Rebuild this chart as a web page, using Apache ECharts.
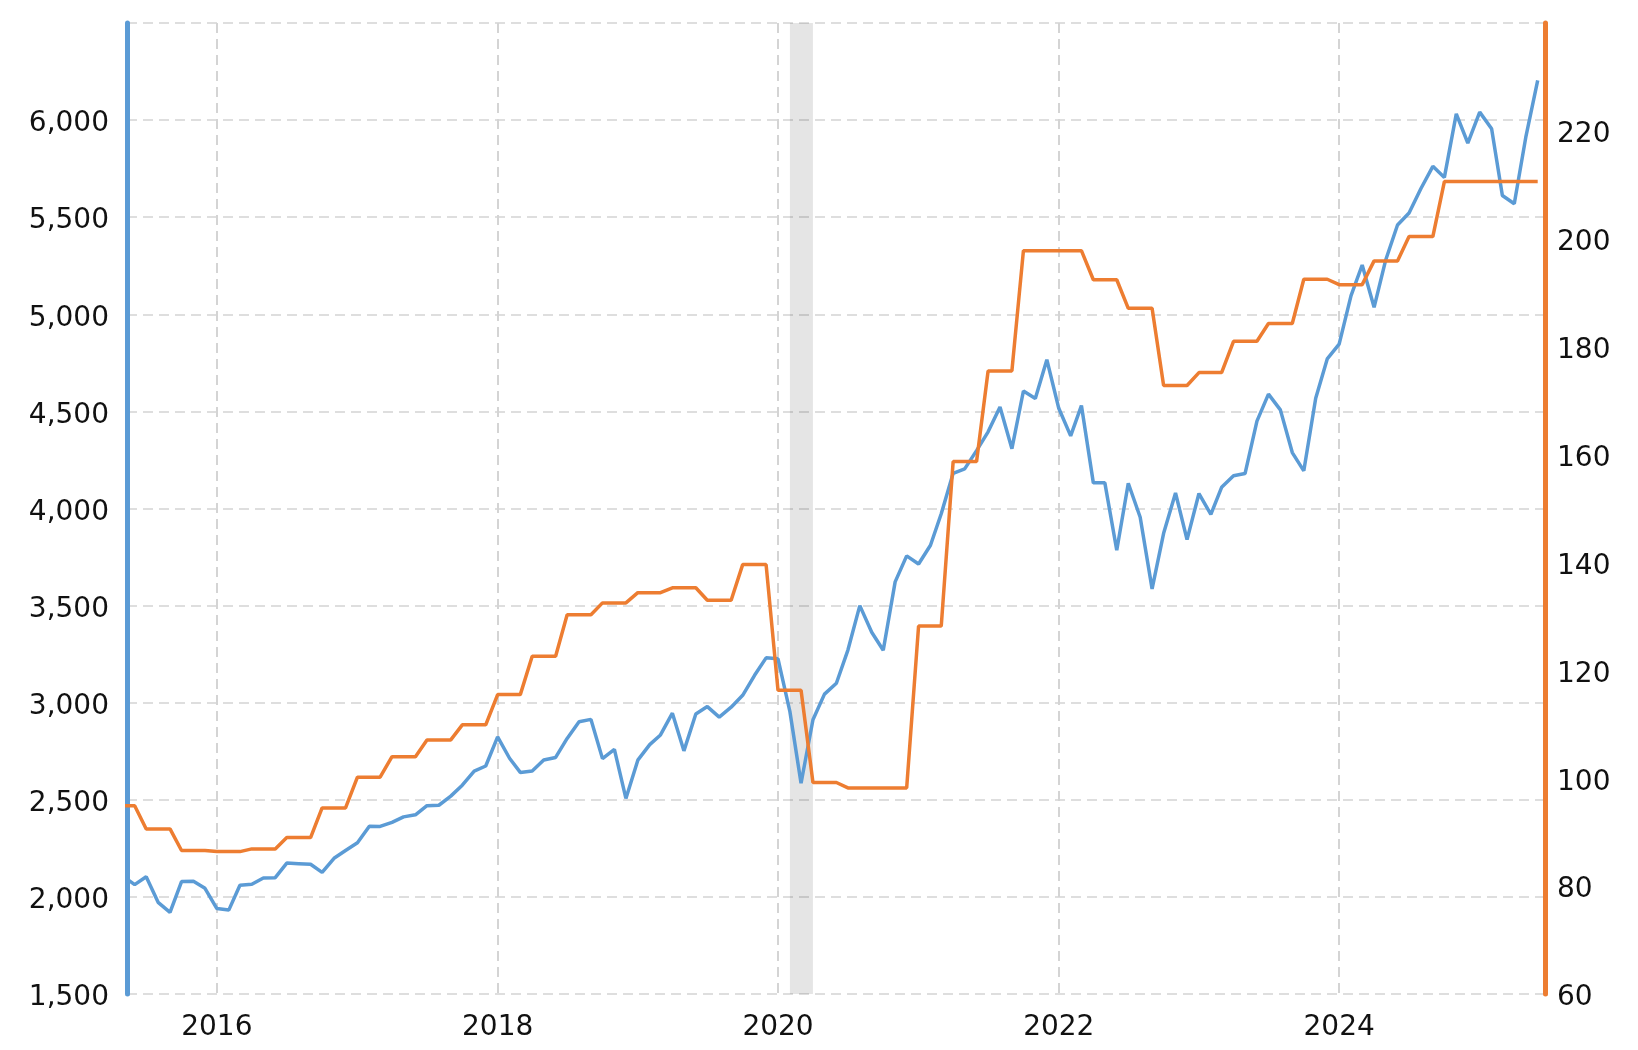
<!DOCTYPE html>
<html>
<head>
<meta charset="utf-8">
<title>S&amp;P 500 vs earnings</title>
<script src="https://cdn.jsdelivr.net/npm/echarts@6/dist/echarts.min.js"></script>
<style>
html, body { margin: 0; padding: 0; background: #fff; }
#main { width: 1638px; height: 1050px; }
</style>
</head>
<body>
<div id="main"></div>
<script>
// monthly points, first one is May 2015
var startYear = 2015, startMonth = 5;

// index level (left axis), monthly close
var priceData = [
  2107, 2063, 2104, 1972, 1920, 2079, 2080, 2044,
  1940, 1932, 2060, 2065, 2097, 2099, 2174, 2171, 2168, 2126, 2199, 2239,
  2279, 2364, 2363, 2384, 2412, 2423, 2470, 2472, 2519, 2575, 2648, 2674,
  2824, 2714, 2641, 2648, 2705, 2718, 2816, 2902, 2914, 2712, 2760, 2507,
  2704, 2784, 2834, 2946, 2752, 2942, 2980, 2926, 2977, 3038, 3141, 3231,
  3226, 2954, 2585, 2912, 3044, 3100, 3271, 3500, 3363, 3270, 3622, 3756,
  3714, 3811, 3973, 4181, 4204, 4298, 4395, 4523, 4308, 4605, 4567, 4766,
  4516, 4374, 4530, 4132, 4132, 3785, 4130, 3955, 3586, 3872, 4080, 3840,
  4077, 3970, 4109, 4169, 4180, 4450, 4589, 4508, 4288, 4194, 4568, 4770,
  4846, 5096, 5254, 5036, 5278, 5460, 5522, 5648, 5762, 5705, 6032, 5882,
  6041, 5955, 5612, 5569, 5912, 6205
];

// earnings (right axis), monthly samples of quarterly values
var epsData = [
  94.9, 94.9, 90.6, 90.6, 90.6, 86.6, 86.6, 86.6,
  86.4, 86.4, 86.4, 86.9, 86.9, 86.9, 89.0, 89.0, 89.0, 94.5, 94.5, 94.5,
  100.2, 100.2, 100.2, 104.0, 104.0, 104.0, 107.1, 107.1, 107.1, 109.9, 109.9, 109.9,
  115.5, 115.5, 115.5, 122.6, 122.6, 122.6, 130.3, 130.3, 130.3, 132.5, 132.5, 132.5,
  134.4, 134.4, 134.4, 135.3, 135.3, 135.3, 133.0, 133.0, 133.0, 139.6, 139.6, 139.6,
  116.3, 116.3, 116.3, 99.2, 99.2, 99.2, 98.2, 98.2, 98.2, 98.2, 98.2, 98.2,
  128.2, 128.2, 128.2, 158.7, 158.7, 158.7, 175.5, 175.5, 175.5, 197.8, 197.8, 197.8,
  197.8, 197.8, 197.8, 192.4, 192.4, 192.4, 187.1, 187.1, 187.1, 172.8, 172.8, 172.8,
  175.2, 175.2, 175.2, 181.0, 181.0, 181.0, 184.3, 184.3, 184.3, 192.5, 192.5, 192.5,
  191.5, 191.5, 191.5, 195.9, 195.9, 195.9, 200.4, 200.4, 200.4, 210.6, 210.6, 210.6,
  210.6, 210.6, 210.6, 210.6, 210.6, 210.6
];

var labelYears = [2016, 2018, 2020, 2022, 2024];
var recession = [Date.UTC(2020, 1, 1), Date.UTC(2020, 3, 1)];
var xRange = [Date.UTC(2015, 4, 12), Date.UTC(2025, 5, 20)];

var yearTicks = labelYears.map(function (y) { return Date.UTC(y, 0, 1); });
var months = [];
for (var i = 0; i < priceData.length; i++) {
  var m = startMonth - 1 + i;
  months.push(Date.UTC(startYear + Math.floor(m / 12), m % 12, 1));
}

var blue = '#5b9bd5';
var orange = '#ed7d31';
var font = 'DejaVu Sans';

// y labels sit a few px below their grid line in the original
var yLabelRich = { t: { fontSize: 28, fontFamily: font, color: '#111', padding: [8, 0, 0, 0] } };

var myChart = echarts.init(document.getElementById('main'));
option = {
  animation: false,
  backgroundColor: '#fff',
  grid: {
    left: 127,
    right: 93,
    top: 23,
    bottom: 56
  },
  xAxis: {
    type: 'value',
    min: xRange[0],
    max: xRange[1],
    axisLine: { show: false },
    axisTick: { show: false, customValues: yearTicks },
    axisLabel: {
      customValues: yearTicks,
      color: '#111',
      fontSize: 28,
      fontFamily: font,
      margin: 20,
      formatter: function (v) { return new Date(v).getUTCFullYear() + ''; }
    },
    splitLine: {
      show: true,
      lineStyle: { color: '#d4d4d4', width: 2, type: [10, 6] }
    }
  },
  yAxis: [{
    type: 'value',
    position: 'left',
    min: 1500,
    max: 6500,
    interval: 500,
    axisLine: { show: true, lineStyle: { color: blue, width: 5 } },
    axisTick: { show: false },
    axisLabel: {
      showMaxLabel: false,
      margin: 18,
      rich: yLabelRich,
      formatter: function (v) { return '{t|' + v.toLocaleString('en-US') + '}'; }
    },
    splitLine: {
      show: true,
      lineStyle: { color: '#dedede', width: 2, type: [10, 6] }
    }
  }, {
    type: 'value',
    position: 'right',
    min: 60,
    max: 240,
    interval: 20,
    axisLine: { show: true, lineStyle: { color: orange, width: 5 } },
    axisTick: { show: false },
    axisLabel: {
      showMaxLabel: false,
      margin: 12,
      rich: yLabelRich,
      formatter: function (v) { return '{t|' + v + '}'; }
    },
    splitLine: { show: false }
  }],
  series: [{
    name: 'Price',
    type: 'line',
    yAxisIndex: 0,
    showSymbol: false,
    lineStyle: { color: blue, width: 3.5 },
    itemStyle: { color: blue },
    data: months.map(function (d, i) { return [d, priceData[i]]; }),
    markArea: {
      silent: true,
      itemStyle: { color: 'rgba(0,0,0,0.1)' },
      data: [[{ xAxis: recession[0] }, { xAxis: recession[1] }]]
    }
  }, {
    name: 'EPS',
    type: 'line',
    yAxisIndex: 1,
    showSymbol: false,
    lineStyle: { color: orange, width: 3.5 },
    itemStyle: { color: orange },
    data: months.map(function (d, i) { return [d, epsData[i]]; })
  }]
};
myChart.setOption(option);
</script>
</body>
</html>
